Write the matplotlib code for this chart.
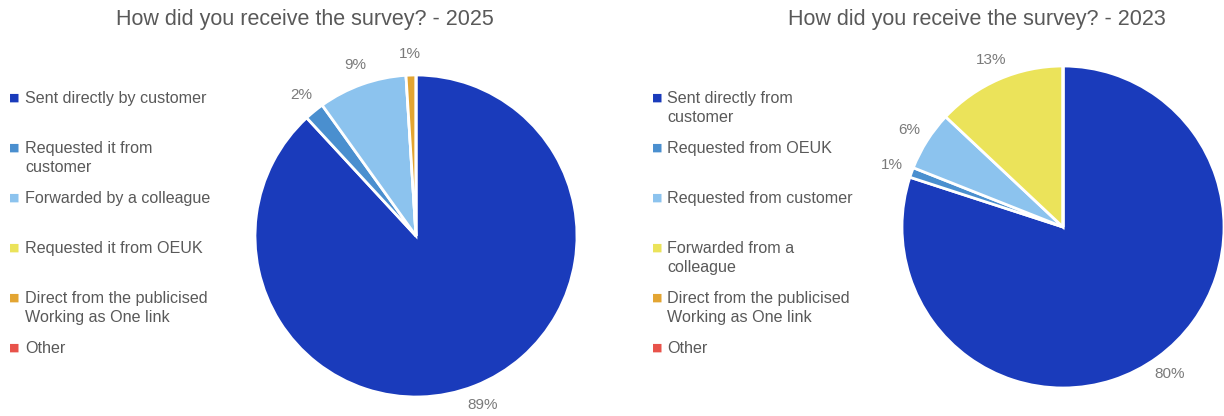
import matplotlib
matplotlib.use("Agg")
import matplotlib.pyplot as plt

plt.rcParams['font.family'] = ['Liberation Sans', 'DejaVu Sans']

# Survey 2025
cats_2025 = [
    "Sent directly by customer",
    "Requested it from\ncustomer",
    "Forwarded by a colleague",
    "Requested it from OEUK",
    "Direct from the publicised\nWorking as One link",
    "Other",
]
vals_2025 = [89, 2, 9, 0, 1, 0]

# Survey 2023
cats_2023 = [
    "Sent directly from\ncustomer",
    "Requested from OEUK",
    "Requested from customer",
    "Forwarded from a\ncolleague",
    "Direct from the publicised\nWorking as One link",
    "Other",
]
vals_2023 = [80, 1, 6, 13, 0, 0]

titles = ["How did you receive the survey? - 2025",
          "How did you receive the survey? - 2023"]

colors = ["#1a3bbb", "#4a8fcf", "#8cc3ee", "#ebe35a", "#e3a532", "#e8524a"]
TEXT = "#595959"
LABEL = "#7a7a7a"

W, H = 1224, 416
fig = plt.figure(figsize=(W / 100, H / 100), dpi=100)


def add_pie(cx, cy, r, vals):
    ax = fig.add_axes([(cx - r) / W, (H - cy - r) / H, 2 * r / W, 2 * r / H])
    labels = [f"{v}%" if v else "" for v in vals]
    wedges, texts = ax.pie(vals, colors=colors, startangle=90, counterclock=False,
                           labels=labels, labeldistance=1.13,
                           wedgeprops=dict(edgecolor="white", linewidth=2),
                           textprops=dict(color=LABEL, fontsize=11))
    for t in texts:
        t.set_ha("center")
        t.set_va("center")
    for w in wedges:
        w.set_clip_on(False)
    ax.set_xlim(-1, 1)
    ax.set_ylim(-1, 1)
    ax.set_aspect("equal")
    ax.axis("off")
    return ax


def add_legend(x_marker, x_text, cats):
    for i, (c, col) in enumerate(zip(cats, colors)):
        y = 98 + 50 * i
        fig.text(x_marker / W, 1 - y / H, "\u25a0", color=col, fontsize=8,
                 ha="center", va="center", family="DejaVu Sans")
        fig.text(x_text / W, 1 - (y - 7) / H, c, color=TEXT, fontsize=11.6,
                 ha="left", va="top", linespacing=1.3)


add_pie(416, 236, 161, vals_2025)
add_pie(1063, 227, 161, vals_2023)

add_legend(14, 25, cats_2025)
add_legend(657, 667, cats_2023)

fig.text(305 / W, 1 - 19 / H, titles[0], color=TEXT, fontsize=15.5, ha="center", va="center")
fig.text(977 / W, 1 - 19 / H, titles[1], color=TEXT, fontsize=15.5, ha="center", va="center")

fig.savefig("out.png", dpi=100, facecolor="white")
